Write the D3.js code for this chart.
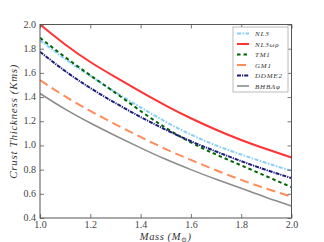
<!DOCTYPE html>
<html><head><meta charset="utf-8">
<script src="https://cdn.jsdelivr.net/npm/d3@7"></script>
<style>
body{margin:0;background:#fff;}
text{font-family:"Liberation Serif","DejaVu Serif",serif;}
</style></head>
<body><svg id="c" width="324" height="242"></svg>
<script>
const mass = [1.0,1.1,1.2,1.3,1.4,1.5,1.6,1.7,1.8,1.9,2.0];
const nl3      = [1.87,1.715,1.575,1.44,1.315,1.195,1.09,1.00,0.925,0.855,0.79];
const nl3wr    = [2.00,1.835,1.69,1.565,1.445,1.33,1.225,1.13,1.045,0.97,0.90];
const tm1      = [1.89,1.73,1.58,1.435,1.285,1.145,1.025,0.925,0.835,0.745,0.655];
const gm1      = [1.54,1.405,1.285,1.175,1.07,0.97,0.88,0.795,0.715,0.643,0.577];
const ddme2    = [1.775,1.615,1.475,1.35,1.235,1.13,1.035,0.95,0.87,0.797,0.73];
const bhb      = [1.43,1.30,1.185,1.08,0.98,0.885,0.80,0.72,0.645,0.57,0.50];
const seriesNames = ["NL3","NL3ωρ","TM1","GM1","DDME2","BHBΛφ"];
const xTicks = [1.0,1.2,1.4,1.6,1.8,2.0];
const yTicks = [0.4,0.6,0.8,1.0,1.2,1.4,1.6,1.8,2.0];

const series = [
  {name:seriesNames[0], v:nl3,   color:"#87cefa", dash:"4,1.5,1.5,1.5", w:2},
  {name:seriesNames[1], v:nl3wr, color:"#ff3333", dash:null, w:2},
  {name:seriesNames[2], v:tm1,   color:"#006400", dash:"3.5,3", w:2},
  {name:seriesNames[3], v:gm1,   color:"#ff8c5a", dash:"9,5", w:2},
  {name:seriesNames[4], v:ddme2, color:"#1c1c7a", dash:"4,1,1.2,1", w:2},
  {name:seriesNames[5], v:bhb,   color:"#8c8c8c", dash:null, w:1.6}
];

const L=40, R=291.5, T=24.5, B=218;
const svg = d3.select("#c");
const x = d3.scaleLinear().domain([1.0,2.0]).range([L,R]);
const y = d3.scaleLinear().domain([0.4,2.0]).range([B,T]);

svg.append("clipPath").attr("id","cl").append("rect")
  .attr("x",L).attr("y",T).attr("width",R-L).attr("height",B-T);

const line = d3.line().x((d,i)=>x(mass[i])).y(d=>y(d)).curve(d3.curveNatural);
const g = svg.append("g").attr("clip-path","url(#cl)");
series.forEach(s=>{
  g.append("path").attr("d",line(s.v)).attr("fill","none")
   .attr("stroke",s.color).attr("stroke-width",s.w)
   .attr("stroke-dasharray",s.dash);
});

const axColor="#555";
const bx = svg.append("g").attr("transform",`translate(0,${B})`)
  .call(d3.axisBottom(x).tickValues(xTicks).tickFormat(d3.format(".1f")).tickSizeInner(-4).tickSizeOuter(0).tickPadding(3));
const tx = svg.append("g").attr("transform",`translate(0,${T})`)
  .call(d3.axisTop(x).tickValues(xTicks).tickFormat("").tickSizeInner(-4).tickSizeOuter(0));
const ly = svg.append("g").attr("transform",`translate(${L},0)`)
  .call(d3.axisLeft(y).tickValues(yTicks).tickFormat(d3.format(".1f")).tickSizeInner(-4).tickSizeOuter(0).tickPadding(4));
const ry = svg.append("g").attr("transform",`translate(${R},0)`)
  .call(d3.axisRight(y).tickValues(yTicks).tickFormat("").tickSizeInner(-4).tickSizeOuter(0));
[bx,tx,ly,ry].forEach(a=>{
  a.select(".domain").remove();
  a.selectAll("line").attr("stroke",axColor).attr("stroke-width",0.8);
  a.selectAll("text").attr("fill","#444").attr("font-size","10px")
   .style("font-family","'Liberation Serif',serif");
});
ly.selectAll("text").attr("dy","0.25em");
svg.append("rect").attr("x",L).attr("y",T).attr("width",R-L).attr("height",B-T)
  .attr("fill","none").attr("stroke",axColor).attr("stroke-width",1);

// axis labels
const xl = svg.append("text").attr("x",(L+R)/2).attr("y",239.5).attr("text-anchor","middle")
  .attr("font-size","10.5px").attr("fill","#333").attr("font-style","italic")
  .attr("letter-spacing","0.6px");
xl.append("tspan").text("Mass (M");
xl.append("tspan").attr("font-size","7px").attr("dy","2").attr("font-style","normal").text("⊙");
xl.append("tspan").attr("dy","-2").text(")");
svg.append("text").attr("transform",`translate(17,${(T+B)/2}) rotate(-90)`)
  .attr("text-anchor","middle").attr("font-size","11px").attr("fill","#333")
  .attr("letter-spacing","0.7px")
  .attr("font-style","italic").text("Crust Thickness (Kms)");

// legend
const lg = svg.append("g");
lg.append("rect").attr("x",233).attr("y",27).attr("width",55).attr("height",65)
  .attr("fill","#fff").attr("stroke","#aaa").attr("stroke-width",0.8);
series.forEach((s,i)=>{
  const yy = 33.5 + i*10.5;
  lg.append("line").attr("x1",237).attr("x2",249).attr("y1",yy).attr("y2",yy)
    .attr("stroke",s.color).attr("stroke-width",s.w).attr("stroke-dasharray",s.dash);
  lg.append("text").attr("x",255).attr("y",yy+2.5).attr("font-size","7px")
    .attr("font-style","italic").attr("fill","#333").attr("letter-spacing","0.8px").text(s.name);
});
</script></body></html>
